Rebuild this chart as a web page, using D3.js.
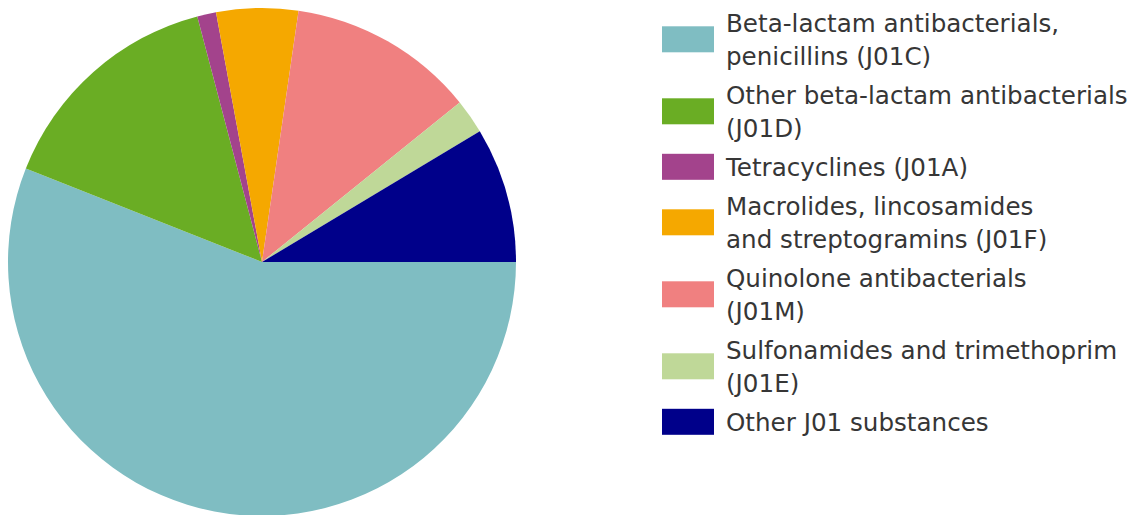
<!DOCTYPE html>
<html>
<head>
<meta charset="utf-8">
<script src="https://cdn.jsdelivr.net/npm/d3@7"></script>
<style>
  html, body { margin: 0; padding: 0; background: #fff; }
  svg { display: block; }
</style>
</head>
<body>
<svg id="chart" width="1137" height="515"></svg>
<script>
// Antibacterial consumption by group (J01), share of total (%)
const categories = [
  "Beta-lactam antibacterials, penicillins (J01C)",
  "Other beta-lactam antibacterials (J01D)",
  "Tetracyclines (J01A)",
  "Macrolides, lincosamides and streptogramins (J01F)",
  "Quinolone antibacterials (J01M)",
  "Sulfonamides and trimethoprim (J01E)",
  "Other J01 substances"
];
// Legend text broken into display lines
const legendLines = [
  ["Beta-lactam antibacterials,", "penicillins (J01C)"],
  ["Other beta-lactam antibacterials", "(J01D)"],
  ["Tetracyclines (J01A)"],
  ["Macrolides, lincosamides", "and streptogramins (J01F)"],
  ["Quinolone antibacterials", "(J01M)"],
  ["Sulfonamides and trimethoprim", "(J01E)"],
  ["Other J01 substances"]
];
const shares = [56.0, 14.9, 1.2, 5.2, 11.9, 2.2, 8.6];
const colors = ["#7fbdc2", "#6aad24", "#a3438c", "#f5a800", "#f08080", "#bfd898", "#00008a"];

const data = categories.map((c, i) => ({ name: c, value: shares[i], lines: legendLines[i] }));

const svg = d3.select("#chart");
const color = d3.scaleOrdinal().domain(categories).range(colors);

// Pie: starts at 3 o'clock and runs clockwise
const cx = 262, cy = 262, radius = 254;
const pie = d3.pie()
  .value(d => d.value)
  .sort(null)
  .startAngle(Math.PI / 2)
  .endAngle(Math.PI / 2 + 2 * Math.PI);
const arc = d3.arc().innerRadius(0).outerRadius(radius);

svg.append("g")
  .attr("transform", `translate(${cx},${cy})`)
  .selectAll("path")
  .data(pie(data))
  .join("path")
  .attr("d", arc)
  .attr("fill", d => color(d.data.name));

// Legend
const lg = svg.append("g").attr("transform", "translate(662,0)");
const lineH = 33, itemGap = 6, swW = 52, swH = 26, textX = 64;
let baseline = 31.7;
data.forEach(d => {
  const n = d.lines.length;
  const capH = 17.8;
  const midY = baseline - capH / 2 + (n - 1) * lineH / 2;
  const g = lg.append("g");
  g.append("rect")
    .attr("x", 0).attr("y", midY - swH / 2)
    .attr("width", swW).attr("height", swH)
    .attr("fill", color(d.name));
  const t = g.append("text")
    .attr("font-family", "'DejaVu Sans', sans-serif")
    .attr("font-size", 24.6)
    .attr("fill", "#363636");
  d.lines.forEach((ln, j) => {
    t.append("tspan").attr("x", textX).attr("y", baseline + j * lineH).text(ln);
  });
  baseline += n * lineH + itemGap;
});
</script>
</body>
</html>
